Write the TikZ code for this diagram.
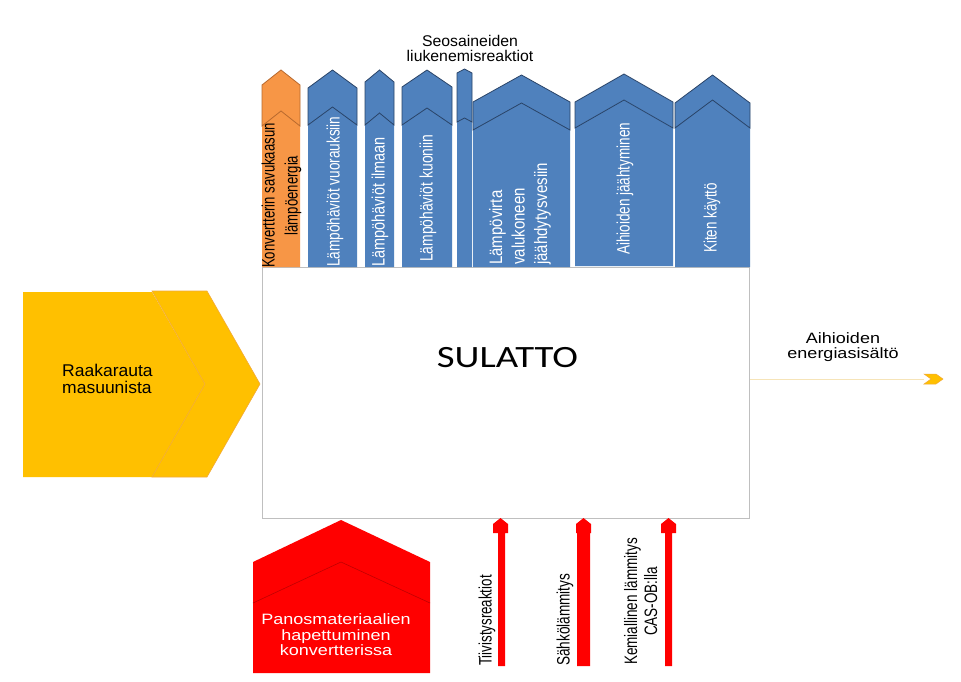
\documentclass[tikz,border=0pt]{standalone}
\usepackage{fontspec}
\setmainfont{Liberation Sans}
\newfontfamily\calibrifont{Carlito}
\usepackage{graphicx}
\definecolor{bblue}{HTML}{4F81BD}
\definecolor{bedge}{HTML}{2A4468}
\definecolor{borange}{HTML}{F79646}
\definecolor{oedge}{HTML}{B8692E}
\definecolor{yel}{HTML}{FFC000}
\definecolor{yedge}{HTML}{F2AA38}
\definecolor{rred}{HTML}{FF0000}
\definecolor{redge}{HTML}{C00000}
\definecolor{boxgray}{HTML}{BFBFBF}
\definecolor{paleline}{HTML}{F6E4B8}
\newcommand\stx[2]{\scalebox{#1}[1]{\begin{tabular}{@{}c@{}}#2\end{tabular}}}
\newcommand\stl[2]{\scalebox{#1}[1]{\begin{tabular}{@{}l@{}}#2\end{tabular}}}
\newcommand\sts[2]{\scalebox{#1}[1]{#2}}
% top chevron arrow: fill, edge, left, right, tip, shoulder, depth, bottom
\newcommand\toparrow[8]{%
  \fill[#1] (#3,#8) -- (#3,#6) -- ({(#3+#4)/2},#5) -- (#4,#6) -- (#4,#8) -- cycle;
  \draw[#2, line width=0.8pt, line join=miter]
    (#3,#6) -- ({(#3+#4)/2},#5) -- (#4,#6) -- (#4,{#6+#7}) -- ({(#3+#4)/2},{#5+#7}) -- (#3,{#6+#7}) -- cycle;}
% thin red up arrow: shaft left, shaft right, head left, head right
\newcommand\redup[4]{%
  \fill[rred] (#1,666) -- (#1,533) -- (#3,533) -- (#3,524) -- ({(#3+#4)/2},518) -- (#4,524) -- (#4,533) -- (#2,533) -- (#2,666) -- cycle;}
\begin{document}
\begin{tikzpicture}[x=1pt,y=-1pt,
  rt/.style={rotate=90, anchor=west, inner sep=0pt, text=white, font=\fontsize{18}{23}\selectfont},
  rtb/.style={rt, text=black},
  ht/.style={inner sep=0pt, text=black}]
\useasboundingbox (0,0) rectangle (961,681);
\fill[white] (0,0) rectangle (961,681);

% main box
\node[draw=boxgray, line width=1.2pt, minimum width=487pt, minimum height=251pt,
      inner sep=0pt, anchor=north west] (box) at (262,267) {};
\node[ht, font=\calibrifont\fontsize{31}{37}\selectfont] (sulatto) at (507.5,358) {\sts{1.25}{SULATTO}};

% top arrows
\toparrow{borange}{oedge}{262}{300}{70}{85}{41}{267}
\toparrow{bblue}{bedge}{308}{357}{70}{88}{37}{267}
\toparrow{bblue}{bedge}{365}{394}{70}{82}{43}{267}
\toparrow{bblue}{bedge}{402}{452}{70}{87}{38}{267}
\toparrow{bblue}{bedge}{457}{472}{69}{73}{49}{267}
\toparrow{bblue}{bedge}{473}{570}{75}{102}{28}{267}
\toparrow{bblue}{bedge}{575}{673}{74}{102}{26}{266}
\toparrow{bblue}{bedge}{675}{750}{75}{103}{25}{267}

\node[rtb] (konv) at (281.5,268) {\stx{0.73}{Konvertterin savukaasun\\lämpöenergia}};
\node[rt] (vuor) at (335,267) {\sts{0.755}{Lämpöhäviöt vuorauksiin}};
\node[rt] (ilma) at (380,267) {\sts{0.805}{Lämpöhäviöt ilmaan}};
\node[rt] (kuon) at (428,262) {\sts{0.77}{Lämpöhäviöt kuoniin}};
\node[rt, font=\fontsize{18}{22.5}\selectfont] (valu) at (520,265) {\stl{0.835}{Lämpövirta\\valukoneen\\jäähdytysvesiin}};
\node[rt] (aihj) at (625,255) {\sts{0.75}{Aihioiden jäähtyminen}};
\node[rt] (kite) at (712,253) {\sts{0.744}{Kiten käyttö}};

\node[ht, font=\fontsize{15.5}{13.3}\selectfont] (seos) at (470,50) {\stx{1.02}{Seosaineiden\\liukenemisreaktiot}};

% left yellow arrow
\fill[yel] (23,292) -- (152,292) -- (205,384) -- (152,477) -- (23,477) -- cycle;
\fill[yel] (152,291) -- (207,291) -- (260,384) -- (207,477) -- (152,477) -- (205,384) -- cycle;
\draw[yedge, line width=0.6pt] (152,291) -- (207,291) -- (260,384) -- (207,477) -- (152,477) -- (205,384) -- cycle;
\node[ht, anchor=west, font=\fontsize{17}{15}\selectfont] (raak) at (62,381) {\stl{1.03}{Raakarauta\\masuunista}};

% right output connector
\coordinate (outend) at (924,379);
\draw[paleline, line width=1pt] (box.east |- outend) -- (outend);
\fill[yel] (924,374) -- (936,374) -- (943,379) -- (936,384) -- (924,384) -- (931,379) -- cycle;
\draw[yedge, line width=0.5pt] (924,374) -- (936,374) -- (943,379) -- (936,384) -- (924,384) -- (931,379) -- cycle;
\node[ht, font=\fontsize{15}{14}\selectfont] (aihe) at (843,347.5) {\stx{1.2}{Aihioiden\\energiasisältö}};

% bottom red pentagon
\fill[rred] (253,673) -- (253,562) -- (341,520) -- (430,562) -- (430,673) -- cycle;
\draw[redge, line width=0.6pt] (253,603) -- (341,562) -- (430,603);
\node[ht, text=white, font=\fontsize{15}{15}\selectfont] (panos) at (336,637) {\stx{1.2}{Panosmateriaalien\\hapettuminen\\konvertterissa}};

% bottom red arrows
\redup{498}{505}{493}{508}
\redup{577}{590}{576}{591}
\redup{665}{672}{661}{676}
\node[rtb] (tiiv) at (487,666) {\sts{0.74}{Tiivistysreaktiot}};
\node[rtb] (sahk) at (565,666) {\sts{0.755}{Sähkölämmitys}};
\node[rtb, font=\fontsize{18}{20}\selectfont] (kemi) at (643,665) {\stx{0.75}{Kemiallinen lämmitys\\CAS-OB:lla}};
\end{tikzpicture}
\end{document}
